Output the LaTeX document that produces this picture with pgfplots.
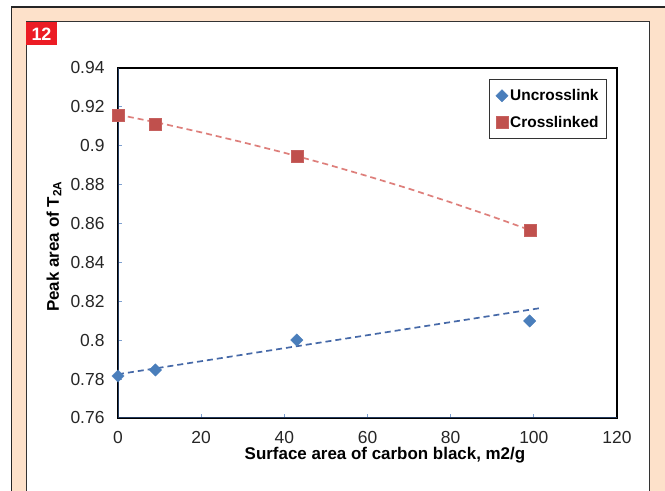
\documentclass[border=0pt]{standalone}
\usepackage{pgfplots}
\pgfplotsset{compat=1.18}
\usepackage{fontspec}
\setmainfont{Liberation Sans}
\definecolor{peach}{HTML}{FDE1CA}
\definecolor{boxred}{HTML}{EC1C24}
\definecolor{diablue}{HTML}{4A7EBB}
\definecolor{sqred}{HTML}{C0504D}
\definecolor{trblue}{HTML}{4669A8}
\definecolor{trred}{HTML}{DE7F7B}
\definecolor{axblue}{HTML}{233A5E}
\definecolor{tickblue}{HTML}{7EA0D0}
\begin{document}
\begin{tikzpicture}[x=1bp,y=1bp]
\useasboundingbox (0,0) rectangle (665,491);
\fill[white] (0,0) rectangle (665,491);
\filldraw[fill=peach, draw=black!85, line width=1.3bp] (11.5,-10) rectangle (675,484);
\filldraw[fill=white, draw=black!80, line width=1bp] (26,-10) rectangle (649,469);
\fill[boxred] (26,446) rectangle (57,469);
\node[white,font=\bfseries\fontsize{18}{18}\selectfont] at (41.5,457) {12};
\begin{axis}[
  scale only axis, width=499bp, height=350bp,
  at={(118bp,73bp)}, anchor=south west,
  xmin=0, xmax=120, ymin=0.76, ymax=0.94,
  xtick={0,20,40,60,80,100,120},
  ytick={0.76,0.78,0.80,0.82,0.84,0.86,0.88,0.90,0.92,0.94},
  /pgf/number format/assume math mode=true,
  tick label style={font=\fontsize{17.5}{17.5}\selectfont, text=black!85},
  yticklabel style={xshift=-10bp, /pgf/number format/fixed, /pgf/number format/precision=2},
  xticklabel style={yshift=-10bp},
  tick align=inside, tick pos=left, major tick length=4bp,
  tick style={color=tickblue, line width=0.8bp},
  axis line style={black, line width=1.6bp},
  xlabel={\bfseries Surface area of carbon black, m2/g},
  ylabel={\bfseries Peak area of T\textsubscript{2A}},
  every axis x label/.style={at={(rel axis cs:0.535,0)}, anchor=north, yshift=-29bp, font=\fontsize{17}{17}\selectfont, inner sep=0pt},
  every axis y label/.style={at={(rel axis cs:0,0.49)}, anchor=center, rotate=90, yshift=64bp, font=\fontsize{17}{17}\selectfont, inner sep=0pt},
  legend style={at={(rel axis cs:1,1)}, anchor=north east, xshift=-10bp, yshift=-11bp,
    font=\bfseries\fontsize{15.5}{15.5}\selectfont, draw=black!80, line width=0.9bp,
    inner xsep=6bp, inner ysep=8bp, row sep=10bp, cells={anchor=west}},
  legend image code/.code={\draw[mark repeat=2,mark phase=2] plot coordinates {(0bp,0bp)(5bp,0bp)(10bp,0bp)};},
]
% trendlines
\addplot[forget plot, trred, line width=1.7bp, dash pattern=on 6bp off 4bp] coordinates {
(0,0.9160) (10,0.9117) (20,0.9069) (30,0.9018) (40,0.8964) (50,0.8906) (60,0.8844) (70,0.8779) (80,0.8709) (90,0.8636) (99,0.8567)};
\addplot[forget plot, trblue, line width=1.7bp, dash pattern=on 6bp off 4bp] coordinates {
(0,0.7825) (101.5,0.8165)};
% data
\addplot[only marks, mark=square*, mark size=4.4bp, mark options={rotate=45, fill=diablue, draw=diablue, line width=0.3bp}] coordinates {
(0,0.7816) (9,0.7847) (43,0.8001) (99,0.8099)};
\addlegendentry{Uncrosslink}
\addplot[only marks, mark=square*, mark size=6bp, mark options={fill=sqred, draw=sqred!90!white, line width=0.3bp}] coordinates {
(0,0.9158) (9,0.9112) (43,0.8947) (99,0.8567)};
\addlegendentry{Crosslinked}
\draw[axblue, line width=2bp] (rel axis cs:0,1) -- (rel axis cs:0,0) -- (rel axis cs:1,0);
\end{axis}
\end{tikzpicture}
\end{document}
